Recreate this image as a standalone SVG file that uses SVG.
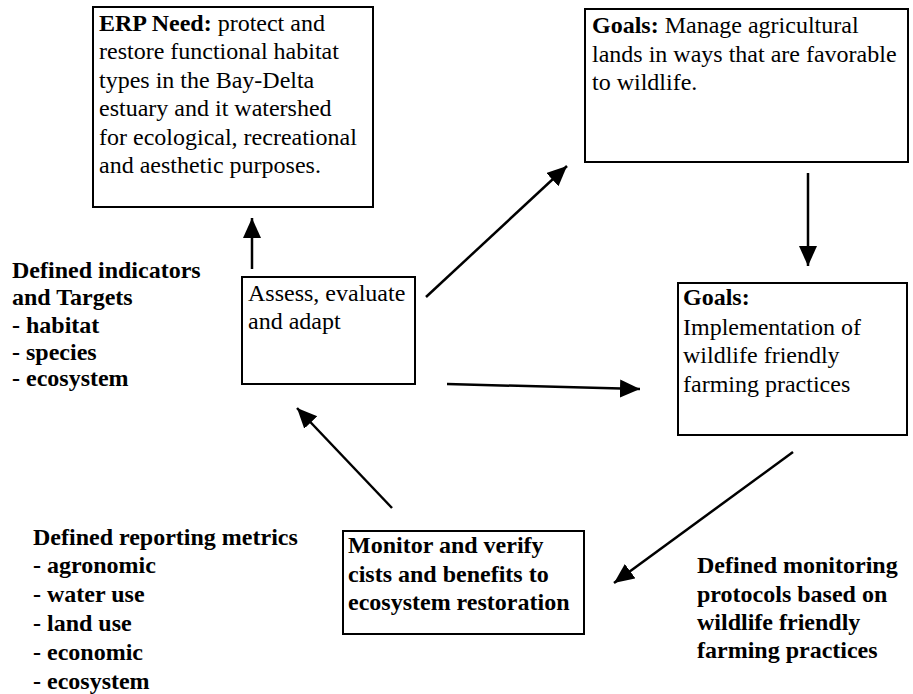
<svg xmlns="http://www.w3.org/2000/svg" width="913" height="694" viewBox="0 0 913 694">
<style>
text{font-size:24px;fill:#000}
.b{font-weight:bold}
.box{fill:#fff;stroke:#000;stroke-width:2}
.con{stroke:#000;stroke-width:2.5;fill:none}
</style>
<defs>
<marker id="ah" markerUnits="userSpaceOnUse" markerWidth="22" markerHeight="20" refX="20" refY="9" orient="auto">
<path d="M0,0 L20,9 L0,18 z" fill="#000"/>
</marker>
</defs>
<rect width="913" height="694" fill="#fff"/>
<g id="connectors">
<line class="con" x1="252" y1="269" x2="252" y2="218" marker-end="url(#ah)" stroke-width="2"/>
<line class="con" x1="426" y1="297" x2="567" y2="166" marker-end="url(#ah)"/>
<line class="con" x1="808" y1="173" x2="808" y2="266" marker-end="url(#ah)" stroke-width="2"/>
<line class="con" x1="447" y1="384" x2="640" y2="389" marker-end="url(#ah)" stroke-width="2"/>
<line class="con" x1="793" y1="452" x2="614" y2="583" marker-end="url(#ah)"/>
<line class="con" x1="392" y1="508" x2="297" y2="408" marker-end="url(#ah)"/>
</g>
<g id="erp-need" font-family="Liberation Serif, serif">
<rect class="box" x="93" y="7" width="280" height="200"/>
<text x="99" y="31"><tspan class="b">ERP Need:</tspan> protect and</text>
<text x="99" y="59">restore functional habitat</text>
<text x="99" y="88">types in the Bay-Delta</text>
<text x="99" y="116">estuary and it watershed</text>
<text x="99" y="145">for ecological, recreational</text>
<text x="99" y="173">and aesthetic purposes.</text>
</g>
<g id="goals-manage" font-family="Liberation Serif, serif">
<rect class="box" x="585" y="9" width="323" height="153"/>
<text x="592" y="33"><tspan class="b">Goals:</tspan> Manage agricultural</text>
<text x="592" y="62">lands in ways that are favorable</text>
<text x="592" y="90">to wildlife.</text>
</g>
<g id="assess" font-family="Liberation Serif, serif">
<rect class="box" x="242" y="277" width="173" height="107"/>
<text x="248" y="301">Assess, evaluate</text>
<text x="248" y="329">and adapt</text>
</g>
<g id="goals-implementation" font-family="Liberation Serif, serif">
<rect class="box" x="678" y="283" width="229" height="152"/>
<text x="683" y="305" class="b">Goals:</text>
<text x="683" y="335">Implementation of</text>
<text x="683" y="363">wildlife friendly</text>
<text x="683" y="392">farming practices</text>
</g>
<g id="monitor" font-family="Liberation Serif, serif">
<rect class="box" x="343" y="531" width="241" height="103"/>
<text x="348" y="553" class="b">Monitor and verify</text>
<text x="348" y="582" class="b">cists and benefits to</text>
<text x="348" y="610" class="b">ecosystem restoration</text>
</g>
<g id="indicators" font-family="Liberation Serif, serif">
<text x="12" y="278" class="b">Defined indicators</text>
<text x="12" y="305" class="b">and Targets</text>
<text x="12" y="333" class="b">- habitat</text>
<text x="12" y="360" class="b">- species</text>
<text x="12" y="386" class="b">- ecosystem</text>
</g>
<g id="reporting-metrics" font-family="Liberation Serif, serif">
<text x="33" y="545" class="b">Defined reporting metrics</text>
<text x="33" y="573" class="b">- agronomic</text>
<text x="33" y="602" class="b">- water use</text>
<text x="33" y="631" class="b">- land use</text>
<text x="33" y="660" class="b">- economic</text>
<text x="33" y="689" class="b">- ecosystem</text>
</g>
<g id="monitoring-protocols" font-family="Liberation Serif, serif">
<text x="697" y="573" class="b">Defined monitoring</text>
<text x="697" y="602" class="b">protocols based on</text>
<text x="697" y="630" class="b">wildlife friendly</text>
<text x="697" y="658" class="b">farming practices</text>
</g>
</svg>
